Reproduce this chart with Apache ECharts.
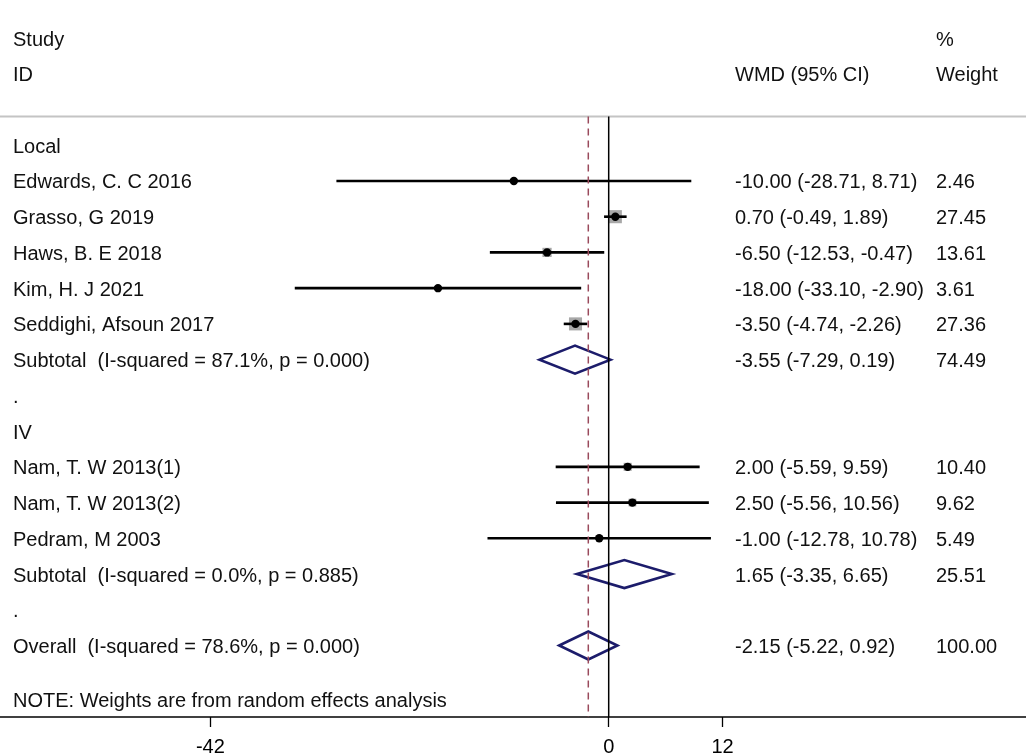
<!DOCTYPE html>
<html>
<head>
<meta charset="UTF-8">
<title>Forest plot</title>
<script src="https://cdn.jsdelivr.net/npm/echarts@6/dist/echarts.min.js"></script>
<style>
  html, body { margin: 0; padding: 0; background: #fff; }
  #chartmain { width: 1026px; height: 753px; }
</style>
</head>
<body>
<div id="chartmain"></div>
<script>
// row labels, one per row (row 0 = "Local")
var rowLabels = [
    'Local',
    'Edwards, C. C 2016',
    'Grasso, G 2019',
    'Haws, B. E 2018',
    'Kim, H. J 2021',
    'Seddighi, Afsoun 2017',
    'Subtotal  (I-squared = 87.1%, p = 0.000)',
    '.',
    'IV',
    'Nam, T. W 2013(1)',
    'Nam, T. W 2013(2)',
    'Pedram, M 2003',
    'Subtotal  (I-squared = 0.0%, p = 0.885)',
    '.',
    'Overall  (I-squared = 78.6%, p = 0.000)'
];

// single studies
var studyRows   = [1, 2, 3, 4, 5, 9, 10, 11];
var studyEst    = [-10.00, 0.70, -6.50, -18.00, -3.50, 2.00, 2.50, -1.00];
var studyLo     = [-28.71, -0.49, -12.53, -33.10, -4.74, -5.59, -5.56, -12.78];
var studyHi     = [8.71, 1.89, -0.47, -2.90, -2.26, 9.59, 10.56, 10.78];
var studyWeight = [2.46, 27.45, 13.61, 3.61, 27.36, 10.40, 9.62, 5.49];

// pooled estimates (subtotals + overall)
var poolRows   = [6, 12, 14];
var poolEst    = [-3.55, 1.65, -2.15];
var poolLo     = [-7.29, -3.35, -5.22];
var poolHi     = [0.19, 6.65, 0.92];
var poolWeight = [74.49, 25.51, 100.00];

var tickValues = [-42, 0, 12];
var overallEst = -2.15;

var FONT = "'Liberation Sans', Arial, sans-serif";
var X_MIN = -64.18, X_MAX = 44.0;
var SEP_ROW = -0.8, AXIS_ROW = 16;
var COL_LABEL = 13, COL_CI = 735, COL_W = 936;   // pixel columns for text
var TEXT_DY = 2;                                 // glyphs sit a bit high with 'middle'

function fmt(v) { return v.toFixed(2); }

// text rows: [row, column x (px), text]
var textRows = [];
textRows.push([-3, COL_LABEL, 'Study']);
textRows.push([-2, COL_LABEL, 'ID']);
textRows.push([-3, COL_W, '%']);
textRows.push([-2, COL_CI, 'WMD (95% CI)']);
textRows.push([-2, COL_W, 'Weight']);
for (var i = 0; i < rowLabels.length; i++) {
    textRows.push([i, COL_LABEL, rowLabels[i]]);
}
for (var i = 0; i < studyRows.length; i++) {
    textRows.push([studyRows[i], COL_CI, fmt(studyEst[i]) + ' (' + fmt(studyLo[i]) + ', ' + fmt(studyHi[i]) + ')']);
    textRows.push([studyRows[i], COL_W, fmt(studyWeight[i])]);
}
for (var i = 0; i < poolRows.length; i++) {
    textRows.push([poolRows[i], COL_CI, fmt(poolEst[i]) + ' (' + fmt(poolLo[i]) + ', ' + fmt(poolHi[i]) + ')']);
    textRows.push([poolRows[i], COL_W, fmt(poolWeight[i])]);
}
textRows.push([15.5, COL_LABEL, 'NOTE: Weights are from random effects analysis']);

var studyData = [], poolData = [];
for (var i = 0; i < studyRows.length; i++) {
    studyData.push([studyEst[i], studyRows[i], studyLo[i], studyHi[i], studyWeight[i]]);
}
for (var i = 0; i < poolRows.length; i++) {
    poolData.push([poolEst[i], poolRows[i], poolLo[i], poolHi[i]]);
}

var mychart = echarts.init(document.getElementById('chartmain'));

var myoption = {
    animation: false,
    backgroundColor: '#fff',
    grid: { left: 0, right: 0, top: 2.26, bottom: 36, outerBoundsMode: 'none', containLabel: false },
    xAxis: {
        type: 'value',
        min: X_MIN,
        max: X_MAX,
        splitLine: { show: false },
        axisLine: { show: true, onZero: false, lineStyle: { color: '#000', width: 1.6 } },
        axisTick: { show: true, customValues: tickValues, length: 10, lineStyle: { color: '#000', width: 1.3 } },
        axisLabel: { customValues: tickValues, color: '#000', fontSize: 20, fontFamily: FONT, margin: 20 }
    },
    yAxis: {
        type: 'value',
        inverse: true,
        min: -4,
        max: 16,
        show: false
    },
    series: [
        {   // grey separator under the header
            type: 'line',
            data: [[X_MIN, SEP_ROW], [X_MAX, SEP_ROW]],
            symbol: 'none',
            lineStyle: { color: '#c4c4c4', width: 2 },
            silent: true
        },
        {   // overall estimate, dashed
            type: 'line',
            data: [[overallEst, SEP_ROW], [overallEst, AXIS_ROW]],
            symbol: 'none',
            lineStyle: { color: '#9a4a5c', width: 1.5, type: [7, 5] },
            silent: true
        },
        {   // no-effect line
            type: 'line',
            data: [[0, SEP_ROW], [0, AXIS_ROW]],
            symbol: 'none',
            lineStyle: { color: '#000', width: 1.5 },
            silent: true
        },
        {   // study boxes, CI lines and point estimates
            type: 'custom',
            data: studyData,
            renderItem: function (params, api) {
                var c = api.coord([api.value(0), api.value(1)]);
                var lo = api.coord([api.value(2), api.value(1)]);
                var hi = api.coord([api.value(3), api.value(1)]);
                var side = 2.5 * Math.sqrt(api.value(4));
                return {
                    type: 'group',
                    children: [
                        { type: 'rect', shape: { x: c[0] - side / 2, y: c[1] - side / 2, width: side, height: side },
                          style: { fill: '#a8a8a8' } },
                        { type: 'line', shape: { x1: lo[0], y1: lo[1], x2: hi[0], y2: hi[1] },
                          style: { stroke: '#000', lineWidth: 2.6 } },
                        { type: 'circle', shape: { cx: c[0], cy: c[1], r: 4.2 },
                          style: { fill: '#000' } }
                    ]
                };
            }
        },
        {   // pooled diamonds
            type: 'custom',
            data: poolData,
            renderItem: function (params, api) {
                var c = api.coord([api.value(0), api.value(1)]);
                var lo = api.coord([api.value(2), api.value(1)]);
                var hi = api.coord([api.value(3), api.value(1)]);
                var h = 14;
                return {
                    type: 'polygon',
                    shape: { points: [[lo[0], c[1]], [c[0], c[1] - h], [hi[0], c[1]], [c[0], c[1] + h]] },
                    style: { fill: 'none', stroke: '#1c1c6b', lineWidth: 2.6 }
                };
            }
        },
        {   // all the text columns
            type: 'custom',
            data: textRows,
            renderItem: function (params, api) {
                var p = api.coord([0, api.value(0)]);
                var item = textRows[params.dataIndex];
                return {
                    type: 'text',
                    x: item[1],
                    y: p[1] + TEXT_DY,
                    style: {
                        text: item[2],
                        fill: '#111',
                        font: '20px ' + FONT,
                        textAlign: 'left',
                        textVerticalAlign: 'middle'
                    }
                };
            }
        }
    ]
};

mychart.setOption(myoption);
</script>
</body>
</html>
